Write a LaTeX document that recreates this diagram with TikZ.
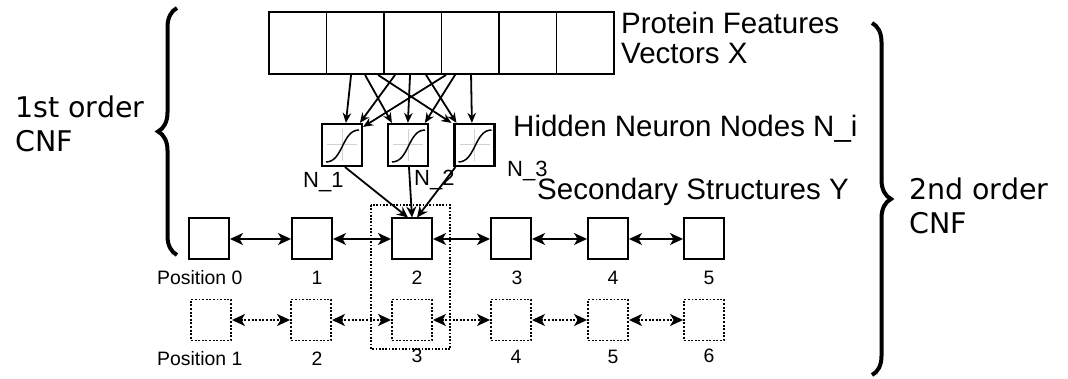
\documentclass[tikz,border=0pt]{standalone}
\usepackage{fontspec}
\setmainfont{Liberation Sans}
\newfontfamily\dejavu{DejaVu Sans}
\usepackage{tikz}
\usetikzlibrary{arrows.meta, positioning, calc, decorations.pathreplacing}

\begin{document}
\begin{tikzpicture}[
    x=1pt, y=-1pt,
    feat/.style={draw, line width=1.9pt, minimum width=57.5pt, minimum height=62pt, inner sep=0pt},
    neuron/.style={draw, line width=2.2pt, minimum width=40pt, minimum height=42pt, inner sep=0pt,
        path picture={
            \draw[gray!35, line width=1pt] ([xshift=5pt]path picture bounding box.west) -- ([xshift=-5pt]path picture bounding box.east)
                ([yshift=-5pt]path picture bounding box.north) -- ([yshift=5pt]path picture bounding box.south);
            \draw[line width=1.5pt] ($(path picture bounding box.center)+(-16,17)$) .. controls +(17,0) and +(-17,0) .. ($(path picture bounding box.center)+(17,-15)$);
        }},
    sbox/.style={draw, line width=2pt, minimum width=40pt, minimum height=41pt, inner sep=0pt},
    dbox/.style={sbox, line width=1.9pt, dash pattern=on 1.9pt off 1.7pt},
    wire/.style={line width=1.8pt, -{Stealth[length=10pt,width=8.5pt]}},
    link/.style={line width=1.9pt, {Stealth[length=13pt,width=12pt,inset=3.5pt]}-{Stealth[length=13pt,width=12pt,inset=3.5pt]}},
    dlink/.style={link, dash pattern=on 1.9pt off 1.7pt},
    bigtxt/.style={font=\fontsize{29.5}{30}\selectfont, inner sep=0pt},
    ntxt/.style={font=\fontsize{22}{24}\selectfont, inner sep=0pt},
    postxt/.style={font=\fontsize{19.4}{21}\selectfont, inner sep=0pt},
    cnftxt/.style={font=\dejavu\fontsize{28.5}{34}\selectfont, inner sep=0pt, align=left},
    curly/.style={line width=4pt, decorate, decoration={brace, amplitude=19pt}}
]
\useasboundingbox (0,0) rectangle (1068,379);

% feature vectors
\foreach \i in {1,...,6}
    \node[feat] (f\i) at ({269+57.5*(\i-0.5)},43) {};
\node[bigtxt, anchor=north west, align=left] (ftxt) at (621,11.5) {Protein Features\\Vectors X};

% hidden neurons
\node[neuron] (n1) at (342,145) {};
\node[neuron] (n2) at (408,145) {};
\node[neuron] (n3) at (474.5,145) {};
\node[bigtxt, anchor=base west] (htxt) at (513,137) {Hidden Neuron Nodes N\_i};
\node[ntxt, anchor=base west] (l1) at (303,188) {N\_1};
\node[ntxt, anchor=base west] (l2) at (414,186) {N\_2};
\node[ntxt, anchor=base west] (l3) at (507,177) {N\_3};

\draw[wire] ([xshift=25.5pt]f2.south west) -- ([xshift=25pt]n1.north west);
\draw[wire] ([xshift=39.5pt]f2.south west) -- ([xshift=5pt]n2.north west);
\draw[wire] ([xshift=52.5pt]f2.south west) -- ([xshift=-2pt]n3.north west);
\draw[wire] ([xshift=12pt]f3.south west) -- ([xshift=39pt]n1.north west);
\draw[wire] ([xshift=27pt]f3.south west) -- ([xshift=21pt]n2.north west);
\draw[wire] ([xshift=43pt]f3.south west) -- ([xshift=3pt]n3.north west);
\draw[wire] ([xshift=5.5pt]f4.south west) -- ([yshift=-4pt]n1.north east);
\draw[wire] ([xshift=14.5pt]f4.south west) -- ([xshift=38pt]n2.north west);
\draw[wire] ([xshift=30.5pt]f4.south west) -- ([xshift=18.5pt]n3.north west);

% secondary structures
\foreach \x [count=\i from 0] in {209,312,412,511,608,704}
    \node[sbox] (a\i) at (\x,239) {};
\foreach \x [count=\i from 0] in {211,311,412,511,608,704}
    \node[dbox] (b\i) at (\x,320) {};
\foreach \i [evaluate=\i as \j using int(\i+1)] in {0,...,4} {
    \draw[link] (a\i) -- (a\j);
    \draw[dlink] (b\i) -- (b\j);
}
\node[bigtxt, anchor=base west] (stxt) at (537,200) {Secondary Structures Y};

\draw[wire, -{Stealth[length=11pt,width=10pt]}] ([xshift=3pt]n1.south) -- ([xshift=-4pt]a2.north);
\draw[wire, -{Stealth[length=11pt,width=10pt]}] ([xshift=1pt]n2.south) -- (a2.north);
\draw[wire, -{Stealth[length=11pt,width=10pt]}] ([xshift=2pt]n3.south west) -- ([xshift=5pt]a2.north);

\draw[line width=1.7pt, dash pattern=on 1.7pt off 1.6pt] (371,205) rectangle (450,349);

\node[postxt, anchor=base west] (p0) at (157,285) {Position 0};
\foreach \x/\t [count=\i] in {317/1,417/2,517/3,613/4,709/5}
    \node[postxt, anchor=base] (pa\i) at (\x,285) {\t};
\node[postxt, anchor=base west] (p1) at (157,365) {Position 1};
\foreach \x/\y/\t [count=\i] in {317/365/2,417/362/3,516/363/4,613/363/5,709/362/6}
    \node[postxt, anchor=base] (pb\i) at (\x,\y) {\t};

% braces
\draw[curly] (177,255) -- (177,8);
\node[cnftxt, anchor=north west] (c1) at (15,96) {1st order\\CNF};
\draw[curly] (872,23) -- (872,375);
\node[cnftxt, anchor=north west] (c2) at (909,178) {2nd order\\CNF};

\end{tikzpicture}
\end{document}
